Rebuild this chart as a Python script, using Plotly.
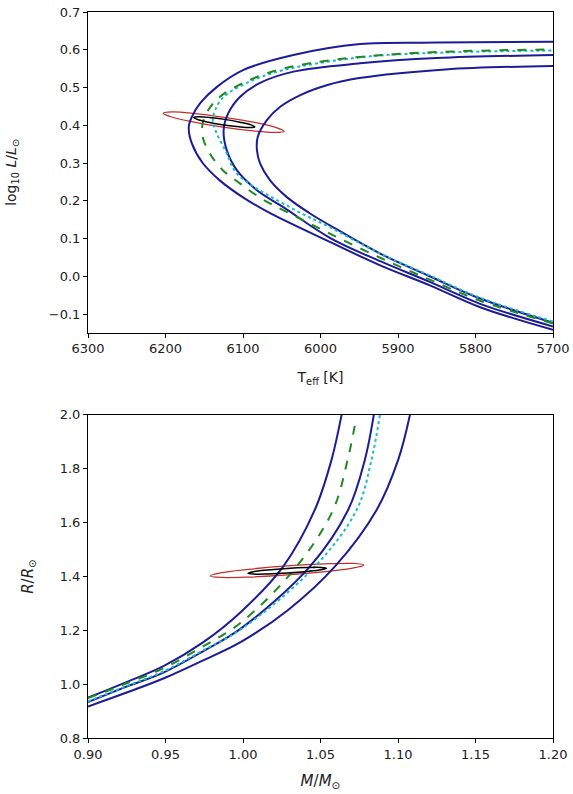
import plotly.graph_objects as go
from plotly.subplots import make_subplots

# ---- HR diagram tracks (Teff [K], log10 L/Lsun) ----
teff_a = [5700, 5794, 5859, 5923, 5988, 6065, 6100, 6130, 6152, 6166, 6170, 6166, 6155, 6134, 6100, 6035, 5949, 5850, 5700]
logl_a = [-0.142, -0.082, -0.024, 0.029, 0.091, 0.167, 0.209, 0.254, 0.300, 0.352, 0.395, 0.422, 0.459, 0.501, 0.546, 0.586, 0.615, 0.619, 0.621]

teff_b = [5700, 5794, 5859, 5923, 5988, 6048, 6082, 6108, 6121, 6125, 6119, 6104, 6078, 6035, 5949, 5850, 5700]
logl_b = [-0.133, -0.073, -0.015, 0.040, 0.102, 0.183, 0.228, 0.281, 0.334, 0.387, 0.432, 0.475, 0.512, 0.542, 0.564, 0.578, 0.586]

teff_c = [5700, 5794, 5859, 5923, 5988, 6014, 6043, 6065, 6078, 6082, 6081, 6069, 6052, 6026, 5992, 5950, 5839, 5700]
logl_c = [-0.123, -0.059, 0.000, 0.060, 0.135, 0.167, 0.209, 0.254, 0.299, 0.334, 0.369, 0.414, 0.449, 0.480, 0.506, 0.525, 0.548, 0.557]

teff_green = [5700, 5794, 5859, 5923, 5988, 6043, 6074, 6104, 6126, 6143, 6152, 6152, 6145, 6130, 6100, 6056, 6014, 5949, 5850, 5700]
logl_green = [-0.125, -0.065, -0.009, 0.049, 0.113, 0.170, 0.203, 0.246, 0.281, 0.326, 0.369, 0.405, 0.440, 0.475, 0.512, 0.546, 0.564, 0.581, 0.594, 0.601]

teff_cyan = [5700, 5794, 5859, 5923, 5988, 6035, 6108, 6121, 6134, 6139, 6136, 6125, 6095, 6050, 5949, 5850, 5700]
logl_cyan = [-0.120, -0.057, 0.002, 0.060, 0.130, 0.178, 0.272, 0.326, 0.379, 0.410, 0.440, 0.475, 0.512, 0.545, 0.580, 0.592, 0.598]

# error ellipses (outline points)
teff_red = [6047, 6058, 6087, 6126, 6165, 6193, 6203, 6192, 6163.5, 6124, 6085, 6057, 6047]
logl_red = [0.384, 0.381, 0.385, 0.395, 0.409, 0.4225, 0.432, 0.4355, 0.4316, 0.421, 0.4077, 0.394, 0.384]
teff_blk = [6084.8, 6090.3, 6105, 6124.8, 6144.5, 6158.7, 6163.7, 6158.2, 6143.5, 6123.7, 6104, 6089.8, 6084.8]
logl_blk = [0.3958, 0.3939, 0.3958, 0.4008, 0.4081, 0.4154, 0.4207, 0.4225, 0.4207, 0.4156, 0.4082, 0.4011, 0.3958]

# ---- mass-radius curves (M/Msun, R/Rsun) ----
mass_a = [0.900, 0.9236, 0.949, 0.9742, 0.999, 1.0259, 1.0463, 1.0571, 1.0636]
rad_a = [0.950, 1.005, 1.068, 1.155, 1.270, 1.4365, 1.647, 1.833, 2.000]

mass_b = [0.900, 0.9236, 0.949, 0.9742, 0.999, 1.0431, 1.0678, 1.0786, 1.0844]
rad_b = [0.933, 0.988, 1.044, 1.122, 1.208, 1.4365, 1.647, 1.833, 2.000]

mass_c = [0.900, 0.9236, 0.949, 0.9742, 0.999, 1.0291, 1.0592, 1.0862, 1.1001, 1.1077]
rad_c = [0.917, 0.966, 1.022, 1.088, 1.158, 1.2756, 1.4365, 1.647, 1.833, 2.000]

mass_green = [0.900, 0.9236, 0.949, 0.9742, 0.999, 1.0345, 1.0581, 1.0675, 1.0728]
rad_green = [0.948, 1.000, 1.060, 1.140, 1.230, 1.4365, 1.647, 1.833, 1.981]

mass_cyan = [0.900, 0.9236, 0.949, 0.9742, 0.999, 1.0463, 1.0733, 1.0829, 1.0883]
rad_cyan = [0.936, 0.990, 1.048, 1.125, 1.205, 1.4365, 1.647, 1.833, 2.000]

mass_red = [1.0780, 1.0714, 1.0534, 1.0286, 1.0038, 0.9857, 0.9789, 0.9854, 1.0035, 1.0282, 1.0530, 1.0712, 1.0780]
rad_red = [1.4428, 1.4316, 1.4183, 1.4056, 1.3978, 1.3964, 1.4019, 1.4131, 1.4264, 1.4391, 1.4469, 1.4484, 1.4428]
mass_blk = [1.0539, 1.0505, 1.0413, 1.0287, 1.0160, 1.0067, 1.0032, 1.0066, 1.0158, 1.0285, 1.0412, 1.0504, 1.0539]
rad_blk = [1.4305, 1.4250, 1.4186, 1.4127, 1.4094, 1.4090, 1.4120, 1.4175, 1.4238, 1.4298, 1.4331, 1.4335, 1.4305]

BLUE = "#1c1c96"
GREEN = "#1f8a1f"
CYAN = "#1cb8c8"
RED = "#c0302a"

fig = make_subplots(rows=2, cols=1, vertical_spacing=0.11)


def add(x, y, row, color, width=2, dash="solid"):
    fig.add_trace(go.Scatter(x=x, y=y, mode="lines", line_shape="spline",
                             line=dict(color=color, width=width, dash=dash),
                             hoverinfo="skip", showlegend=False), row=row, col=1)


# top panel
add(teff_red, logl_red, 1, RED, 1.3)
for tx, ly in [(teff_a, logl_a), (teff_b, logl_b), (teff_c, logl_c)]:
    add(tx, ly, 1, BLUE)
add(teff_cyan, logl_cyan, 1, CYAN, 2, "dot")
add(teff_green, logl_green, 1, GREEN, 2, "dash")
add(teff_blk, logl_blk, 1, "black", 1.5)

# bottom panel
add(mass_red, rad_red, 2, RED, 1.3)
for mx, ry in [(mass_a, rad_a), (mass_b, rad_b), (mass_c, rad_c)]:
    add(mx, ry, 2, BLUE)
add(mass_cyan, rad_cyan, 2, CYAN, 2, "dot")
add(mass_green, rad_green, 2, GREEN, 2, "dash")
add(mass_blk, rad_blk, 2, "black", 1.5)

axis_style = dict(showline=True, linecolor="black", linewidth=1, mirror=True,
                  ticks="outside", ticklen=4, tickcolor="black", showgrid=False,
                  zeroline=False, automargin=False, tickfont=dict(size=13, color="#222"))

fig.update_xaxes(axis_style)
fig.update_yaxes(axis_style)

fig.update_xaxes(range=[6300, 5700], tickvals=[6300, 6200, 6100, 6000, 5900, 5800, 5700],
                 domain=[0, 1], title=dict(text="T<sub>eff</sub> [K]", font=dict(size=14), standoff=16),
                 row=1, col=1)
fig.update_yaxes(range=[-0.15, 0.7], dtick=0.1, tick0=0, tickformat=".1f", domain=[0.558, 1],
                 title=dict(text="log<sub>10</sub> <i>L</i>/<i>L</i><sub>⊙</sub>", font=dict(size=14), standoff=28),
                 row=1, col=1)
fig.update_xaxes(range=[0.9, 1.2], dtick=0.05, tick0=0.9, tickformat=".2f", domain=[0, 1],
                 title=dict(text="<i>M</i>/<i>M</i><sub>⊙</sub>", font=dict(size=15), standoff=14),
                 row=2, col=1)
fig.update_yaxes(range=[0.8, 2.0], dtick=0.2, tick0=0.8, tickformat=".1f", domain=[0, 0.445],
                 title=dict(text="<i>R</i>/<i>R</i><sub>⊙</sub>", font=dict(size=15), standoff=22),
                 row=2, col=1)

fig.update_layout(width=573, height=794, margin=dict(l=88, r=20, t=12, b=56),
                  plot_bgcolor="white", paper_bgcolor="white",
                  font=dict(family="DejaVu Sans", color="#222"))

# drop the browser's default body margin so the figure fills the window
fig.write_html("out.html", config={"displayModeBar": False},
               post_script="document.body.style.margin='0';")
